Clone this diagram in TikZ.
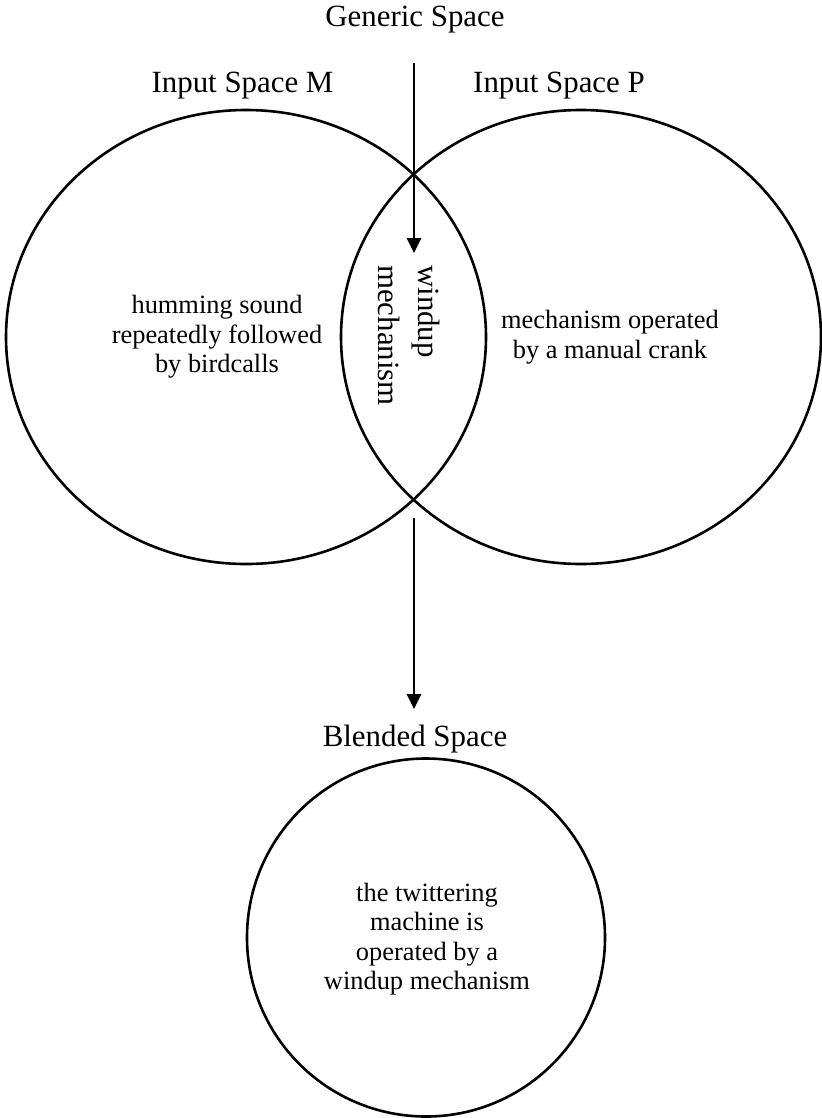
\documentclass[tikz,border=0pt]{standalone}
\usepackage{fontspec}
\setmainfont{Liberation Serif}
\usetikzlibrary{shapes.geometric,arrows.meta}

\begin{document}
\begin{tikzpicture}[x=1bp,y=-1bp,
  every node/.style={inner sep=0pt, outer sep=0pt},
  spacelabel/.style={font=\fontsize{31}{34}\selectfont, anchor=base},
  bodytext/.style={font=\fontsize{26.5}{29.5}\selectfont, align=center},
  sharedtext/.style={font=\fontsize{31}{41}\selectfont, align=left, rotate=-90},
  space/.style={draw, line width=2.6bp, ellipse},
  mapping/.style={line width=2.6bp, -{Triangle[length=15bp,width=14bp]}}
]
\useasboundingbox (0,0) rectangle (822,1118);

% space titles
\node[spacelabel] (gen)   at (415,26)  {Generic Space};
\node[spacelabel] (inM)   at (242.5,92) {Input Space M};
\node[spacelabel] (inP)   at (559,92)  {Input Space P};
\node[spacelabel] (blend) at (415,746) {Blended Space};

% the two input spaces and the blend
\node[space, minimum width=480bp, minimum height=454bp] (M) at (246,337) {};
\node[space, minimum width=480bp, minimum height=454bp] (P) at (581,337) {};
\node[space, circle, minimum size=358bp] (B) at (426,937.5) {};

% contents of each space
\node[bodytext] (mtext) at (217,337)
  {humming sound\\repeatedly followed\\by birdcalls};
\node[bodytext] (ptext) at (610,337)
  {mechanism operated\\by a manual crank};
\node[bodytext] (btext) at (427,939)
  {the twittering\\machine is\\operated by a\\windup mechanism};
\node[sharedtext] (shared) at (409,335.5) {windup\\mechanism};

% projection arrows
\coordinate (g1) at (414,63);
\coordinate (g2) at (414,253);
\coordinate (b1) at (414,518);
\coordinate (b2) at (414,709);
\draw[mapping] (g1) -- (g2);
\draw[mapping] (b1) -- (b2);
\end{tikzpicture}
\end{document}
